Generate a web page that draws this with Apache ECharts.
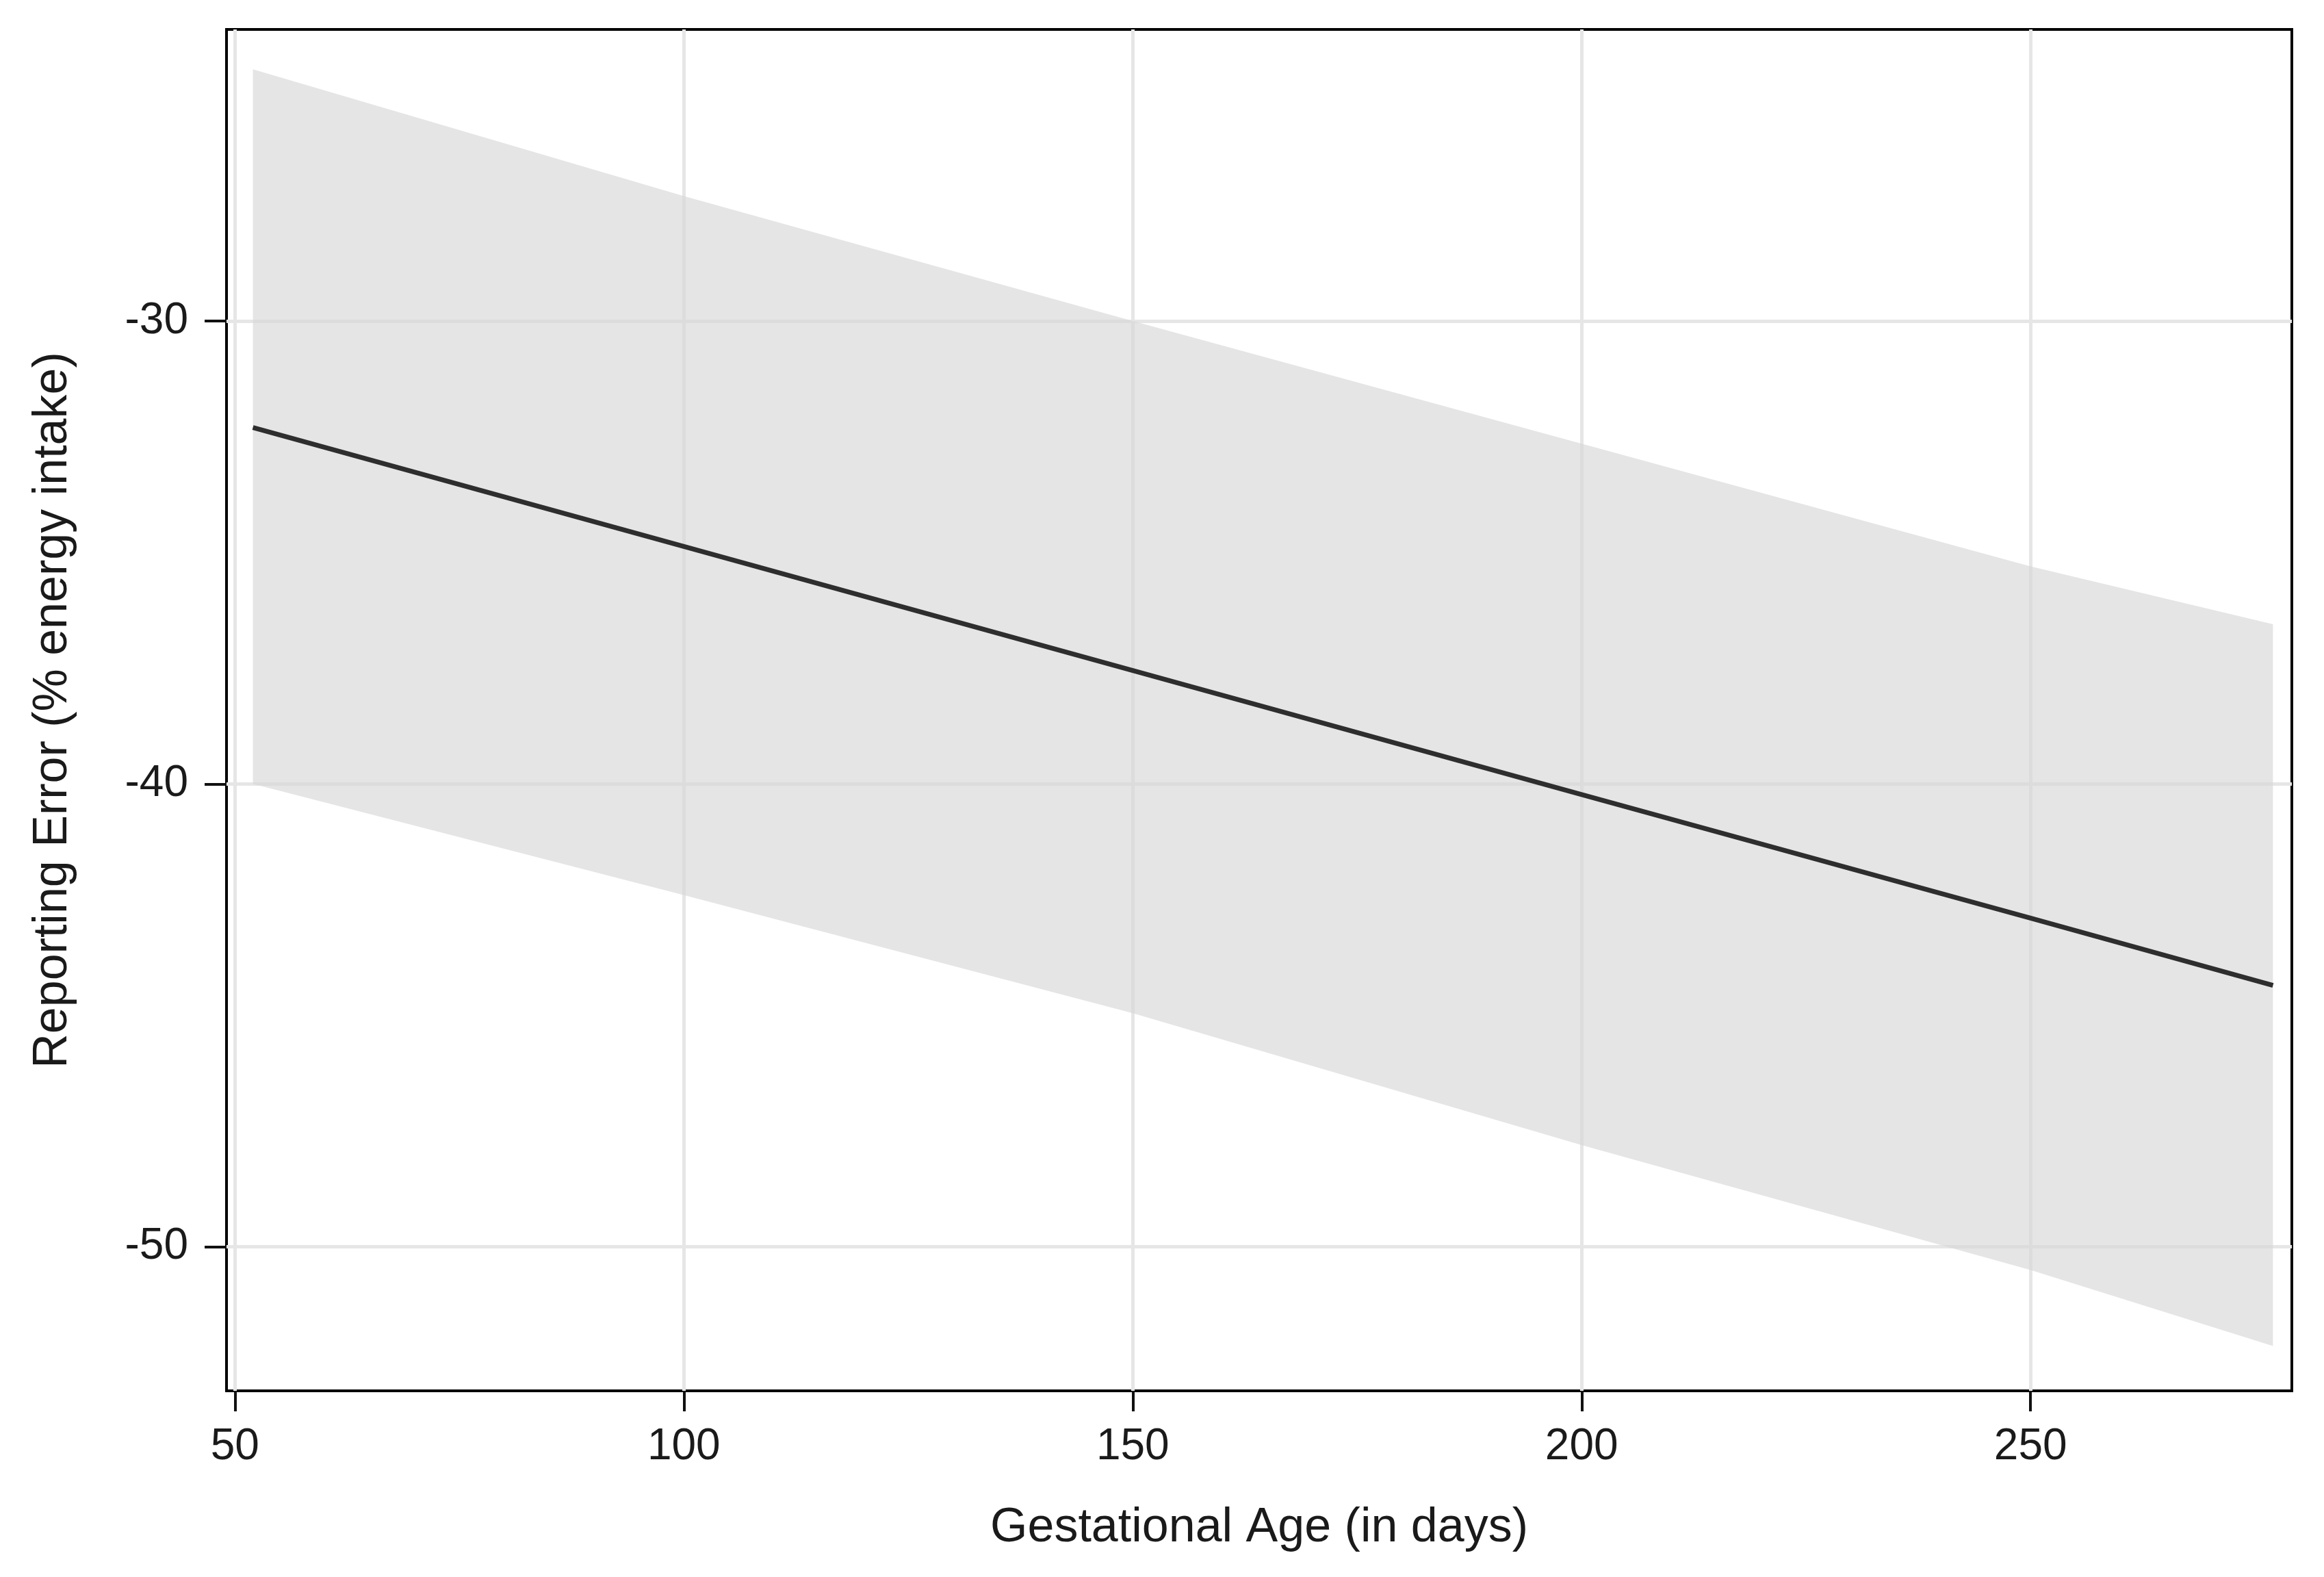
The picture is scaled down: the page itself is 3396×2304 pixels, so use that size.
<!DOCTYPE html>
<html>
<head>
<meta charset="utf-8">
<script src="https://cdn.jsdelivr.net/npm/echarts@6/dist/echarts.min.js"></script>
<style>
  html, body { margin: 0; padding: 0; background: #ffffff; }
  #chart { width: 3396px; height: 2304px; }
</style>
</head>
<body>
<div id="chart"></div>
<script>
// ---- data ----
const xDays   = [52, 100, 150, 200, 250, 277];
const fitted  = [-32.3, -34.87, -37.55, -40.23, -42.9, -44.35];
const upperCI = [-24.56, -27.3, -30.0, -32.65, -35.3, -36.55];
const lowerCI = [-40.0, -42.4, -44.95, -47.8, -50.5, -52.14];
const xTicks  = [50, 100, 150, 200, 250];
const yTicks  = [-50, -40, -30];
const xTitle  = 'Gestational Age (in days)';
const yTitle  = 'Reporting Error (% energy intake)';

const FONT = "'Liberation Sans', Arial, sans-serif";

const fittedData = xDays.map((x, i) => [x, fitted[i]]);
const bandData = xDays.map((x, i) => [x, lowerCI[i], upperCI[i]]);

const chart = echarts.init(document.getElementById('chart'), null, { renderer: 'canvas' });

const option = {
  animation: false,
  backgroundColor: '#ffffff',
  grid: {
    left: 331, right: 47, top: 43, bottom: 272,
    show: true, borderColor: '#000000', borderWidth: 4, backgroundColor: 'transparent'
  },
  xAxis: {
    type: 'value',
    min: 49.06, max: 279.1,
    name: xTitle,
    nameLocation: 'middle',
    nameGap: 166,
    nameTextStyle: { fontFamily: FONT, fontSize: 70, color: '#1a1a1a' },
    axisLine: { show: false },
    axisTick: { show: true, customValues: xTicks, length: 30, lineStyle: { color: '#111', width: 4 } },
    axisLabel: { customValues: xTicks, margin: 50, fontFamily: FONT, fontSize: 64, color: '#1a1a1a' },
    splitLine: { show: false }
  },
  yAxis: {
    type: 'value',
    min: -53.11, max: -23.70,
    name: yTitle,
    nameLocation: 'middle',
    nameGap: 218,
    nameRotate: 90,
    nameTextStyle: { fontFamily: FONT, fontSize: 70, color: '#1a1a1a' },
    axisLine: { show: false },
    axisTick: { show: true, customValues: yTicks, length: 32, lineStyle: { color: '#111', width: 4 } },
    axisLabel: { customValues: yTicks, margin: 56, fontFamily: FONT, fontSize: 64, color: '#1a1a1a' },
    splitLine: { show: false }
  },
  series: [
    {
      name: 'gridlines',
      type: 'line',
      data: fittedData,
      symbol: 'none',
      lineStyle: { opacity: 0 },
      silent: true,
      z: 1,
      markLine: {
        z: 1,
        silent: true,
        symbol: ['none', 'none'],
        label: { show: false },
        lineStyle: { color: '#e6e6e6', width: 5, type: 'solid' },
        emphasis: { disabled: true },
        data: xTicks.map(v => ({ xAxis: v })).concat(yTicks.map(v => ({ yAxis: v })))
      }
    },
    {
      name: 'CI',
      type: 'custom',
      data: bandData,
      z: 2,
      silent: true,
      renderItem: function (params, api) {
        if (params.dataIndex !== 0) return null;
        const top = bandData.map(d => api.coord([d[0], d[2]]));
        const bot = bandData.slice().reverse().map(d => api.coord([d[0], d[1]]));
        return {
          type: 'polygon',
          shape: { points: top.concat(bot) },
          style: { fill: 'rgba(214,214,214,0.64)', stroke: null }
        };
      }
    },
    {
      name: 'fitted',
      type: 'line',
      data: fittedData,
      symbol: 'none',
      z: 3,
      lineStyle: { color: '#2e2e2e', width: 7 }
    }
  ]
};

chart.setOption(option);
</script>
</body>
</html>
